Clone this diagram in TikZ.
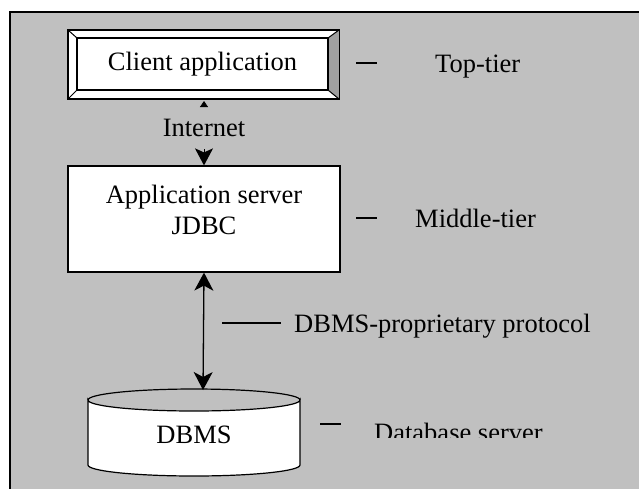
\documentclass[tikz,border=0pt]{standalone}
\usepackage{fontspec}
\setmainfont{Liberation Serif}
\usetikzlibrary{arrows.meta}
\definecolor{bg}{HTML}{C0C0C0}
\definecolor{bevel}{HTML}{A0A0A0}
\begin{document}
\begin{tikzpicture}[x=1pt,y=-1pt,
  box/.style={draw, line width=1.2pt, fill=white, inner sep=0pt},
  txt/.style={font=\fontsize{26.5}{31}\selectfont, inner sep=0pt},
  lbl/.style={txt, anchor=base west},
  tick/.style={line width=1.2pt},
  big/.style={line width=1.3pt, {Stealth[length=18pt,width=19pt,inset=5pt]}-{Stealth[length=18pt,width=19pt,inset=5pt]}}]
\useasboundingbox (0,0) rectangle (639,488);
\clip (0,0) rectangle (639,488);
% background panel
\fill[bg, draw=black, line width=1.5pt] (10,12) rectangle (660,510);

% client application (bevelled box)
\node[box, minimum width=271pt, minimum height=69pt] (clientframe) at (203.5,64.5) {};
\fill[bevel] (339,30) -- (339,99) -- (328,90) -- (328,38) -- cycle;
\draw[line width=1.2pt] (clientframe.north west) rectangle (clientframe.south east);
\draw[line width=1pt] (68,30) -- (77,38) (339,30) -- (328,38) (68,99) -- (77,90) (339,99) -- (328,90);
\node[box, txt, minimum width=251pt, minimum height=52pt] (client) at (202.5,64) {Client application};
\draw[tick] (356,63) -- (377,63);
\node[lbl] (top) at (435,72) {Top-tier};

% internet link
\coordinate (ctip) at (204,101);
\node[txt, minimum height=42pt] (inet) at (204,128) {Internet};
\draw[line width=0.8pt, -{Triangle[length=6pt,width=8pt]}] (inet.north) -- (ctip);

% application server
\node[box, minimum width=272pt, minimum height=106pt] (app) at (204,219) {};
\node[txt, anchor=base] (app1) at (204,203) {Application server};
\node[txt, anchor=base] (app2) at (204,234) {JDBC};
\draw[line width=1pt, -{Stealth[length=17pt,width=18pt,inset=4pt]}] (inet.south) -- (app.north);
\draw[tick] (356,218) -- (377,218);
\node[lbl] (mid) at (415,227) {Middle-tier};

% database server (cylinder)
\coordinate (dbtop) at (203,390);
\draw[line width=1.2pt, fill=white] (88,400) arc[start angle=180, end angle=360, x radius=106pt, y radius=11pt]
  -- (300,465) arc[start angle=0, end angle=-180, x radius=106pt, y radius=11pt] -- cycle;
\draw[line width=1.2pt] (88,400) arc[start angle=180, end angle=0, x radius=106pt, y radius=11pt];
\node[txt, anchor=base] (db) at (194,443) {DBMS};

% protocol link
\draw[big] (app.south) -- (dbtop);
\draw[tick] (222,323) -- (281,323);
\node[lbl] (proto) at (294,332) {DBMS-proprietary protocol};

\draw[tick] (320,424) -- (341,424);
\begin{scope}
\clip (360,400) rectangle (620,437);
\node[lbl] (dbs) at (374,441) {Database server};
\end{scope}
\end{tikzpicture}
\end{document}
